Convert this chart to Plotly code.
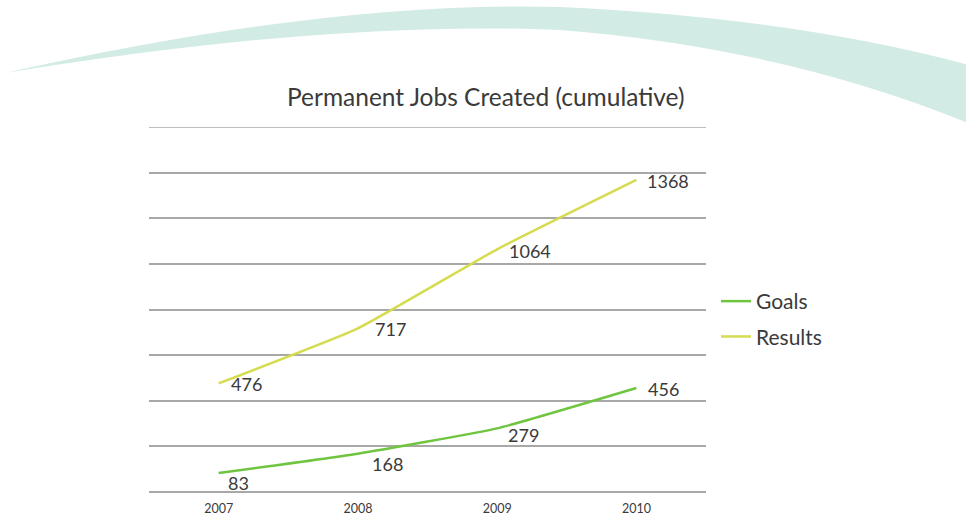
import plotly.graph_objects as go

years = ["2007", "2008", "2009", "2010"]
goals = [83, 168, 279, 456]
results = [476, 717, 1064, 1368]
series_names = ["Goals", "Results"]
title_text = "Permanent Jobs Created (cumulative)"

W, H = 966, 518
L, R, T, B = 149, 706, 127, 492  # plot area pixel box

def px(x):
    return (x - L) / (R - L)

def py(y):
    return (B - y) / (B - T)

FONT = "Lato, 'Open Sans', sans-serif"
TXT = "#3a3a3a"
GREEN = "#70c540"
YELLOW = "#d5dc4f"
GRID = "#a8a8a8"

fig = go.Figure()
fig.add_trace(go.Scatter(x=years, y=goals, name=series_names[0], mode="lines",
                         line=dict(color=GREEN, width=2.5, shape="spline", smoothing=0.4),
                         legendgroup="g"))
fig.add_trace(go.Scatter(x=years, y=results, name=series_names[1], mode="lines",
                         line=dict(color=YELLOW, width=2.5, shape="spline", smoothing=0.4),
                         legendgroup="r"))

# data labels (category positions by index)
goal_off = [(7, -10), (12, -10), (9, -7), (10, -1)]
res_off = [(10, -1), (15, -1), (10, -2), (9, -1)]
for vals, offs in ((goals, goal_off), (results, res_off)):
    for i, (yv, (dx, dy)) in enumerate(zip(vals, offs)):
        fig.add_annotation(x=i, y=yv, text=str(yv), showarrow=False,
                           xanchor="left", yanchor="middle", xshift=dx, yshift=dy,
                           font=dict(family=FONT, size=18, color=TXT))

# title
fig.add_annotation(xref="paper", yref="paper", x=px(486), y=py(96), text=title_text,
                   showarrow=False, xanchor="center", yanchor="middle",
                   font=dict(family=FONT, size=24.5, color=TXT))

# top gridline (range max)
fig.add_shape(type="line", xref="paper", yref="y", x0=0, x1=1, y0=1600, y1=1600,
              line=dict(color=GRID, width=1.5), layer="below")

# decorative swoosh
def P(a, b):
    return f"{px(a):.4f},{py(b):.4f}"

path = ("M " + P(5, 73)
        + " Q " + P(330, 0) + " " + P(560, 7)
        + " Q " + P(800, 18) + " " + P(980, 68)
        + " L " + P(980, 128)
        + " Q " + P(790, 48) + " " + P(560, 30)
        + " Q " + P(330, 20) + " " + P(5, 73) + " Z")
fig.add_shape(type="path", path=path, xref="paper", yref="paper", layer="below",
              fillcolor="#d2ece5", line=dict(width=0))

fig.update_layout(
    width=W, height=H,
    margin=dict(l=L, r=W - R, t=T, b=H - B, autoexpand=False),
    paper_bgcolor="white", plot_bgcolor="rgba(0,0,0,0)",
    showlegend=True,
    legend=dict(x=px(716), y=py(281), xanchor="left", yanchor="top",
                font=dict(family=FONT, size=21, color=TXT),
                bgcolor="rgba(0,0,0,0)", tracegroupgap=5, traceorder="grouped",
                itemwidth=30),
    xaxis=dict(type="category", showgrid=False, showline=False, zeroline=False,
               ticks="outside", ticklen=5, tickcolor="rgba(0,0,0,0)",
               tickfont=dict(family=FONT, size=12.5, color=TXT),
               range=[-0.5, 3.5]),
    yaxis=dict(range=[0, 1600], dtick=200, showticklabels=False, showgrid=True,
               gridcolor=GRID, gridwidth=1.5, zeroline=True, zerolinecolor=GRID,
               zerolinewidth=1.5, showline=False, ticks=""),
)

fig.write_html("out.html", config={"displayModeBar": False},
               post_script="document.body.style.margin='0';")
